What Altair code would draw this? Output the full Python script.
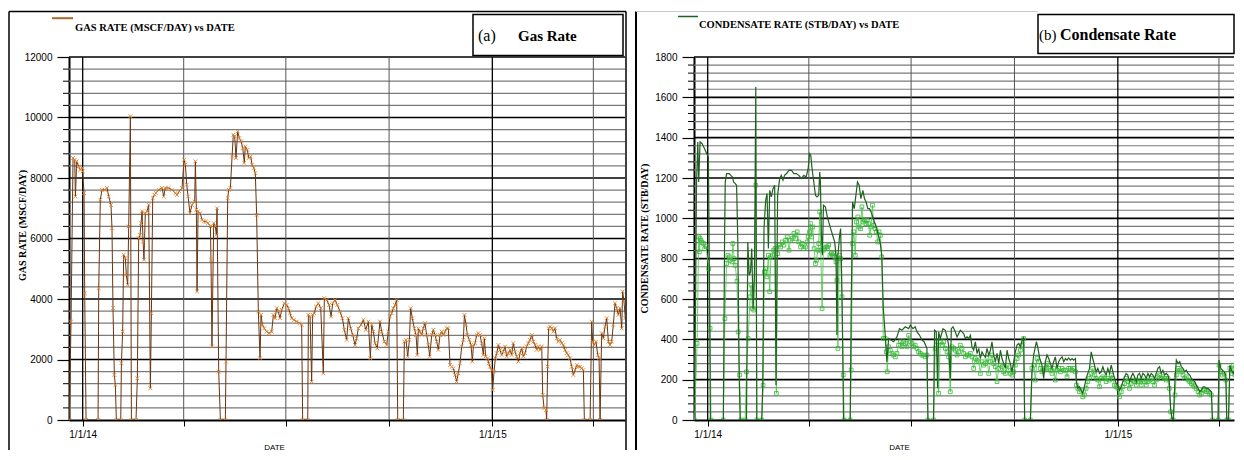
import altair as alt
import pandas as pd

# ---------------- data: days after 1 Jan 2014 and rates ----------------
GAS_DAYS = [
    -11.9, -10.4, -8.6, -7.1, -6.5, -5.3, -3.6, -2.1, -0.6, 0.0,
    1.2, 1.8, 3.0, 13.7, 14.3, 15.7, 17.2, 19.6, 21.7, 23.2,
    25.2, 26.1, 27.0, 28.2, 29.1, 30.0, 33.9, 34.5, 35.6, 36.5,
    38.0, 38.9, 40.1, 41.0, 42.5, 43.4, 47.5, 48.7, 49.9, 51.1,
    52.0, 52.9, 53.8, 54.6, 55.8, 57.3, 58.8, 60.3, 61.2, 62.4,
    63.9, 65.3, 67.7, 70.7, 72.2, 73.6, 76.6, 79.6, 82.6, 84.0,
    86.1, 88.5, 90.3, 91.5, 92.7, 93.9, 95.6, 97.4, 99.8, 100.4,
    101.3, 101.9, 102.8, 104.8, 106.3, 107.8, 109.9, 111.7, 113.8, 114.3,
    115.2, 116.7, 118.2, 119.1, 119.7, 121.2, 122.7, 127.1, 127.7, 129.2,
    130.1, 131.6, 133.1, 134.2, 135.4, 136.6, 138.1, 139.6, 141.1, 142.6,
    144.0, 144.9, 146.7, 147.9, 149.7, 150.9, 152.4, 153.8, 155.0, 156.5,
    158.0, 158.9, 160.1, 161.8, 163.9, 166.0, 168.4, 169.9, 171.4, 172.9,
    174.3, 175.8, 177.3, 179.7, 181.8, 183.3, 184.7, 186.2, 188.3, 190.7,
    193.1, 195.1, 196.0, 200.5, 201.1, 202.6, 204.0, 204.9, 206.4, 207.9,
    210.0, 212.1, 214.4, 215.3, 217.4, 219.5, 221.3, 222.8, 224.8, 226.9,
    229.3, 231.4, 233.1, 235.2, 236.7, 238.8, 240.6, 242.6, 244.1, 245.6,
    248.0, 250.1, 252.2, 254.5, 256.3, 257.5, 259.0, 260.5, 262.5, 264.9,
    266.4, 268.8, 270.9, 272.3, 273.8, 275.3, 276.8, 278.3, 279.8, 280.7,
    285.7, 286.6, 288.1, 289.6, 291.1, 292.2, 293.7, 295.5, 297.0, 298.2,
    299.1, 300.6, 302.1, 303.5, 305.0, 306.5, 308.0, 309.2, 311.0, 312.4,
    313.9, 315.4, 316.9, 318.4, 319.9, 321.4, 322.8, 324.3, 325.8, 327.3,
    328.8, 330.3, 331.8, 333.2, 334.7, 336.2, 337.7, 339.2, 340.1, 341.6,
    342.7, 344.5, 346.0, 347.2, 348.1, 349.6, 351.1, 352.5, 354.0, 355.5,
    357.0, 357.9, 359.1, 360.6, 361.8, 362.9, 364.4, 365.3, 366.5, 367.7,
    368.9, 370.4, 371.8, 373.3, 374.8, 376.3, 377.8, 379.3, 380.8, 382.2,
    383.7, 385.2, 386.7, 388.2, 389.7, 391.2, 392.6, 394.1, 395.6, 397.1,
    398.6, 400.1, 401.6, 403.1, 404.5, 406.0, 407.5, 409.0, 409.9, 411.1,
    412.8, 413.4, 414.3, 415.2, 416.4, 417.9, 419.4, 420.8, 422.3, 423.8,
    425.3, 426.8, 428.3, 429.8, 431.2, 432.7, 434.2, 435.7, 437.2, 438.7,
    440.2, 441.6, 443.1, 444.6, 446.1, 447.0, 452.1, 453.5, 454.4, 455.9,
    457.4, 458.9, 460.1, 461.0, 462.4, 463.9, 465.4, 466.9, 468.4, 469.9,
    471.3, 472.8, 474.3, 475.8, 477.3, 478.8, 480.3, 481.1, 482.3, 483.5,
]
GAS_RATE = [
    0, 3250, 8660, 8600, 7390, 8550, 8380, 8270, 8330, 8220,
    7500, 4190, 0, 0, 4360, 7280, 7610, 7610, 7670, 7390,
    7110, 6340, 3700, 1490, 1160, 0, 0, 1880, 2920, 5460,
    5350, 4800, 4470, 6400, 10040, 0, 0, 1380, 6010, 6120,
    6510, 6900, 5900, 5300, 6840, 6900, 7110, 1050, 3530, 7340,
    7450, 7500, 7610, 7670, 7390, 7670, 7670, 7610, 7500, 7440,
    7560, 7670, 8600, 8440, 7780, 7390, 6840, 7110, 7220, 8550,
    6950, 4250, 6900, 6840, 6620, 6560, 6560, 6510, 6400, 5300,
    2430, 6510, 6400, 6120, 7000, 1600, 0, 0, 1930, 7340,
    7610, 7670, 8710, 9430, 9380, 8660, 9540, 9320, 9210, 8990,
    8500, 9040, 8930, 8660, 8710, 8440, 8330, 8160, 6780, 3585,
    2040, 3475, 3145, 3030, 2920, 2870, 2920, 3475, 3365, 3695,
    3585, 3365, 3640, 3860, 3805, 3695, 3530, 3365, 3310, 3255,
    3200, 3145, 0, 0, 3475, 3420, 1270, 3475, 3530, 3750,
    3860, 3695, 1545, 4030, 3970, 3805, 3420, 3860, 3970, 3805,
    3585, 3365, 2980, 2650, 3365, 3030, 2810, 2480, 2700, 3030,
    3145, 3310, 2980, 3255, 2040, 3145, 2920, 2540, 2370, 3255,
    2920, 2590, 2480, 2920, 3420, 3530, 3695, 3805, 3970, 0,
    0, 2590, 2650, 2100, 2650, 3695, 3365, 3030, 2810, 2150,
    3030, 2920, 2810, 3030, 3200, 2810, 2480, 2100, 2810, 2980,
    2810, 2590, 2320, 2810, 2920, 2810, 2920, 3030, 3030, 1820,
    1760, 1710, 1490, 1270, 1545, 1875, 2430, 2650, 3475, 3145,
    2810, 2650, 2480, 1930, 2430, 2540, 2810, 2870, 2810, 2540,
    2150, 2700, 2100, 2040, 1875, 1760, 1650, 990, 1600, 2040,
    2210, 2480, 2320, 2150, 2260, 2430, 2100, 2210, 2320, 2150,
    2540, 2260, 2100, 1930, 2210, 2370, 2100, 2210, 2430, 2540,
    2650, 2810, 2590, 2480, 2320, 2430, 2320, 2430, 830, 390,
    330, 0, 1765, 3030, 3090, 3030, 2920, 3030, 2700, 2590,
    2650, 2540, 2480, 2320, 2210, 2150, 2040, 1760, 1490, 1650,
    1820, 1760, 1760, 1710, 1650, 0, 0, 3250, 2590, 2480,
    2590, 2150, 2040, 0, 2870, 2700, 3090, 3365, 2590, 2480,
    2590, 3145, 3860, 3695, 3475, 3695, 3030, 4250, 3915, 3365,
]

COND_DAYS = [
    -12.7, -10.9, -10.0, -8.8, -8.0, -6.8, -5.0, -2.9, -0.9, 0.6,
    1.5, 2.4, 13.9, 15.0, 15.6, 16.8, 19.2, 20.6, 22.1, 23.0,
    24.5, 25.7, 26.8, 28.0, 28.9, 34.5, 35.7, 36.9, 38.1, 39.2,
    40.4, 41.6, 42.8, 43.7, 48.1, 49.0, 50.1, 51.6, 52.8, 54.0,
    55.2, 56.6, 58.1, 59.6, 60.8, 62.2, 64.0, 65.5, 67.0, 68.4,
    70.2, 72.3, 74.6, 76.7, 78.8, 81.1, 83.5, 85.5, 87.6, 89.4,
    90.6, 91.7, 92.9, 94.4, 95.9, 97.3, 98.8, 99.7, 100.3, 101.2,
    102.1, 103.0, 104.7, 106.2, 107.7, 109.4, 111.2, 113.0, 114.2, 115.0,
    115.9, 117.4, 118.3, 119.2, 120.1, 120.9, 126.8, 127.7, 128.9, 130.4,
    131.9, 133.3, 134.8, 136.3, 138.1, 139.5, 141.0, 142.5, 144.0, 145.4,
    146.9, 148.4, 150.4, 151.9, 153.4, 154.9, 156.3, 158.0, 159.5, 161.0,
    165.4, 168.4, 170.7, 172.9, 175.8, 178.8, 180.3, 182.7, 184.7, 186.3,
    188.6, 190.7, 192.7, 195.1, 196.0, 201.0, 201.9, 203.4, 204.6, 205.5,
    207.0, 209.4, 211.5, 213.0, 214.4, 215.9, 216.8, 218.3, 220.4, 221.9,
    223.4, 224.8, 226.3, 227.8, 229.3, 230.8, 232.3, 233.8, 235.2, 236.7,
    238.2, 239.7, 241.2, 242.6, 244.1, 245.6, 247.1, 248.6, 250.1, 251.6,
    253.0, 254.5, 256.0, 257.5, 259.0, 260.5, 261.9, 263.4, 264.9, 266.4,
    267.9, 269.4, 270.8, 272.3, 273.8, 275.3, 276.8, 278.3, 279.8, 281.2,
    282.1, 287.2, 288.6, 290.1, 292.5, 293.7, 295.5, 297.5, 299.0, 300.5,
    302.0, 303.5, 305.0, 306.4, 307.9, 309.4, 310.9, 312.4, 313.9, 315.4,
    316.9, 318.4, 319.8, 321.3, 322.8, 324.3, 325.8, 327.3, 328.2, 329.4,
    330.9, 332.4, 333.8, 335.3, 336.8, 338.3, 339.8, 341.3, 342.7, 344.2,
    345.7, 347.2, 348.7, 350.2, 351.7, 353.1, 354.6, 356.1, 357.6, 359.1,
    360.6, 362.0, 363.5, 365.0, 366.5, 368.0, 369.5, 371.0, 372.4, 373.9,
    375.4, 376.9, 378.4, 379.9, 381.4, 382.8, 384.3, 385.8, 387.3, 388.8,
    390.3, 391.8, 393.2, 394.7, 396.2, 397.7, 399.2, 400.7, 402.2, 403.6,
    405.1, 406.6, 408.1, 409.6, 410.8, 412.0, 413.2, 414.4, 415.9, 417.1,
    418.6, 420.1, 421.5, 423.0, 424.5, 426.0, 427.5, 429.0, 430.5, 431.9,
    433.4, 434.9, 436.4, 437.9, 439.4, 440.9, 442.3, 443.8, 445.3, 446.8,
    448.3, 449.2, 454.2, 455.1, 456.6, 458.1, 459.6, 461.1, 462.0, 463.5,
    464.7, 466.2, 467.7, 469.2, 470.6, 472.1, 473.6, 475.1, 476.6, 478.1,
]
COND_RATE = [
    0, 520, 1164, 1379, 1180, 1379, 1370, 1346, 1321, 1304,
    751, 0, 0, 883, 1180, 1222, 1222, 1213, 1205, 1180,
    1172, 1164, 883, 223, 0, 0, 883, 718, 735, 850,
    553, 718, 1651, 0, 0, 173, 949, 1090, 1123, 850,
    1139, 1106, 1147, 1164, 173, 1114, 1197, 1213, 1189, 1213,
    1222, 1238, 1238, 1222, 1222, 1213, 1197, 1213, 1205, 1246,
    1321, 1313, 1246, 1180, 1114, 1106, 1114, 1230, 1180, 916,
    817, 1065, 1057, 1015, 982, 949, 916, 883, 817, 421,
    817, 916, 949, 718, 388, 0, 0, 553, 1081, 1048,
    1114, 1180, 1164, 1098, 1139, 1098, 1081, 1048, 1048, 1032,
    1007, 982, 949, 916, 883, 817, 553, 420, 289, 404,
    388, 412, 453, 445, 462, 453, 470, 453, 462, 437,
    420, 396, 387, 355, 0, 0, 445, 437, 157, 437,
    404, 453, 445, 412, 371, 206, 453, 462, 437, 412,
    429, 445, 437, 429, 404, 412, 404, 420, 363, 346,
    388, 330, 355, 305, 338, 322, 313, 355, 322, 346,
    388, 322, 289, 330, 280, 346, 305, 280, 256, 346,
    305, 280, 239, 289, 338, 371, 379, 363, 396, 412,
    0, 0, 239, 322, 388, 363, 305, 272, 206, 289,
    322, 305, 280, 256, 289, 313, 256, 289, 305, 313,
    289, 305, 297, 308, 297, 305, 297, 305, 190, 157,
    165, 148, 132, 165, 206, 231, 256, 338, 305, 272,
    239, 256, 231, 239, 264, 239, 223, 256, 231, 272,
    239, 206, 181, 173, 148, 165, 190, 214, 231, 223,
    190, 214, 231, 214, 190, 223, 231, 206, 231, 223,
    206, 231, 214, 231, 223, 206, 231, 256, 264, 231,
    247, 223, 231, 223, 190, 58, 8, 0, 206, 297,
    280, 289, 264, 256, 239, 247, 231, 223, 206, 198,
    190, 173, 157, 140, 148, 165, 165, 157, 157, 148,
    140, 0, 0, 297, 256, 247, 239, 223, 0, 0,
    272, 247, 231, 256, 223, 239, 272, 289, 338, 420,
]

COND_PT_DAYS = [
    -11.8, -9.4, -8.0, -7.4, -6.8, -5.9, -5.0, -3.8, -2.7, -1.5,
    0.9, 2.1, 3.0, 13.9, 15.3, 16.8, 18.0, 19.2, 20.1, 21.5,
    22.4, 23.6, 24.5, 26.0, 27.1, 28.3, 29.5, 33.3, 34.5, 36.0,
    37.8, 38.6, 39.8, 41.0, 42.8, 43.7, 48.1, 49.3, 50.4, 51.6,
    52.8, 54.0, 55.2, 56.3, 57.5, 58.7, 59.9, 61.1, 62.2, 63.4,
    64.9, 66.4, 67.8, 69.3, 70.8, 72.3, 73.7, 75.2, 76.7, 78.2,
    79.6, 81.1, 82.6, 84.1, 85.5, 87.0, 88.5, 89.4, 90.6, 91.4,
    92.3, 93.5, 94.7, 95.9, 96.8, 98.0, 98.8, 99.7, 100.6, 101.8,
    102.9, 104.1, 105.3, 106.5, 107.7, 108.8, 110.0, 111.2, 112.1, 113.0,
    114.2, 115.0, 115.9, 117.1, 118.3, 119.5, 120.6, 121.5, 126.8, 127.7,
    128.9, 130.1, 131.3, 132.4, 133.6, 134.8, 136.0, 137.2, 138.3, 139.5,
    140.7, 141.9, 143.1, 144.2, 145.4, 146.6, 147.8, 149.0, 150.1, 151.3,
    152.5, 153.7, 154.9, 156.3, 158.0, 158.9, 159.8, 161.0, 162.5, 164.0,
    165.4, 166.9, 168.4, 169.9, 171.4, 172.9, 174.3, 175.8, 177.3, 178.8,
    180.3, 181.8, 183.2, 184.7, 186.2, 187.7, 189.2, 190.7, 192.2, 193.6,
    195.1, 196.0, 201.0, 202.5, 204.0, 205.5, 207.0, 208.5, 210.0, 211.5,
    213.0, 214.4, 215.9, 217.4, 218.9, 220.4, 221.9, 223.4, 224.8, 226.3,
    227.8, 229.3, 230.8, 232.3, 233.8, 235.2, 236.7, 238.2, 239.7, 241.2,
    242.6, 244.1, 245.6, 247.1, 248.6, 250.1, 251.6, 253.0, 254.5, 256.0,
    257.5, 259.0, 260.5, 261.9, 263.4, 264.9, 266.4, 267.9, 269.4, 270.8,
    272.3, 273.8, 275.3, 276.8, 278.3, 279.8, 281.2, 282.1, 287.2, 288.6,
    290.1, 291.6, 293.1, 294.6, 296.0, 297.5, 299.0, 300.5, 302.0, 303.5,
    305.0, 306.4, 307.9, 309.4, 310.9, 312.4, 313.9, 315.4, 316.9, 318.4,
    319.8, 321.3, 322.8, 324.3, 325.8, 327.3, 328.2, 329.4, 330.9, 332.4,
    333.8, 335.3, 336.8, 338.3, 339.8, 341.3, 342.7, 344.2, 345.7, 347.2,
    348.7, 350.2, 351.7, 353.1, 354.6, 356.1, 357.6, 359.1, 360.6, 362.0,
    363.5, 365.0, 366.5, 368.0, 369.5, 371.0, 372.4, 373.9, 375.4, 376.9,
    378.4, 379.9, 381.4, 382.8, 384.3, 385.8, 387.3, 388.8, 390.3, 391.8,
    393.2, 394.7, 396.2, 397.7, 399.2, 400.7, 402.2, 403.6, 405.1, 406.6,
    408.1, 409.6, 410.8, 412.0, 413.2, 414.4, 415.9, 417.1, 418.6, 420.1,
    421.5, 423.0, 424.5, 426.0, 427.5, 429.0, 430.5, 431.9, 433.4, 434.9,
    436.4, 437.9, 439.4, 440.9, 442.3, 443.8, 445.3, 446.8, 448.3, 449.2,
    454.2, 455.1, 456.6, 458.1, 459.6, 461.1, 462.0, 463.5, 464.7, 466.2,
    467.7, 469.2, 470.6, 472.1, 473.6, 475.1, 476.6, 478.1,
]
COND_PT_RATE = [
    0, 380, 908, 834, 900, 890, 880, 875, 850, 860,
    750, 455, 0, 0, 503, 776, 817, 809, 792, 784,
    875, 800, 767, 688, 437, 223, 0, 0, 239, 404,
    611, 669, 553, 545, 1164, 0, 0, 173, 735, 751,
    710, 817, 636, 809, 817, 842, 850, 132, 825, 867,
    858, 883, 867, 891, 908, 842, 891, 900, 925, 900,
    933, 883, 858, 875, 850, 858, 883, 908, 933, 974,
    908, 957, 850, 776, 792, 842, 875, 1032, 842, 553,
    842, 850, 858, 858, 867, 817, 825, 817, 825, 809,
    784, 693, 355, 817, 800, 611, 223, 0, 0, 248,
    875, 933, 817, 982, 1007, 957, 949, 1057, 982, 990,
    974, 990, 974, 916, 957, 1065, 965, 949, 933, 883,
    933, 916, 809, 404, 404, 338, 239, 363, 346, 330,
    322, 313, 330, 371, 388, 363, 388, 379, 363, 420,
    388, 379, 363, 371, 355, 338, 330, 322, 322, 313,
    322, 0, 0, 355, 388, 132, 388, 371, 388, 355,
    338, 313, 140, 363, 355, 346, 322, 338, 371, 355,
    330, 313, 322, 322, 330, 313, 256, 305, 297, 289,
    231, 289, 272, 280, 305, 231, 289, 322, 280, 264,
    190, 256, 272, 264, 239, 231, 272, 247, 231, 223,
    239, 272, 305, 322, 346, 371, 404, 0, 0, 256,
    272, 198, 305, 289, 256, 239, 247, 256, 280, 256,
    247, 231, 256, 198, 247, 256, 239, 256, 247, 247,
    214, 256, 256, 247, 256, 239, 173, 157, 140, 148,
    115, 124, 157, 190, 206, 231, 256, 223, 206, 198,
    165, 206, 214, 206, 190, 206, 198, 223, 206, 173,
    165, 157, 115, 140, 165, 181, 206, 190, 157, 181,
    198, 190, 173, 190, 198, 173, 198, 190, 173, 190,
    198, 206, 190, 173, 198, 214, 223, 206, 214, 206,
    198, 206, 157, 41, 0, 0, 124, 223, 256, 247,
    239, 223, 206, 214, 198, 190, 181, 173, 165, 157,
    140, 124, 132, 148, 148, 140, 140, 132, 124, 0,
    0, 272, 239, 223, 231, 198, 0, 0, 256, 231,
    272, 223, 247, 231, 256, 289, 371, 445,
]

GAS_TICKS = [0, 2000, 4000, 6000, 8000, 10000, 12000]
COND_TICKS = [0, 200, 400, 600, 800, 1000, 1200, 1400, 1600, 1800]
QUARTER_DATES = ["2014-01-01", "2014-04-01", "2014-07-01", "2014-10-01", "2015-01-01", "2015-04-01"]
DATE_LABELS = {"2014-01-01": "1/1/14", "2015-01-01": "1/1/15"}

# ---------------- helpers ----------------
BASE_MS = int(pd.Timestamp("2014-01-01", tz="UTC").value // 1_000_000)
DAY_MS = 86_400_000


def ms(days):
    return [BASE_MS + int(round(d * DAY_MS)) for d in days]


def date_ms(s):
    return int(pd.Timestamp(s, tz="UTC").value // 1_000_000)


Q_MS = [date_ms(d) for d in QUARTER_DATES]
YEAR_MS = [date_ms(d) for d in DATE_LABELS]
LABEL_EXPR = " : ".join(
    f"time(datum.value) == {date_ms(d)} ? '{lab}'" for d, lab in DATE_LABELS.items()
) + " : ''"

PLOT_H = 363
X_START = -12.2
FRAME_BOTTOM = 393
ONE = pd.DataFrame({"k": [0]})
SERIF = "Liberation Serif"
SANS = "Liberation Sans"


def hrule(x1, x2, y, color, w):
    return alt.Chart(ONE).mark_rule(color=color, strokeWidth=w).encode(
        x=alt.value(x1), x2=alt.value(x2), y=alt.value(y))


def vrule(x, y1, y2, color, w):
    return alt.Chart(ONE).mark_rule(color=color, strokeWidth=w).encode(
        x=alt.value(x), y=alt.value(y1), y2=alt.value(y2))


def label(x, y, s, size, weight="normal"):
    return alt.Chart(ONE).mark_text(
        align="left", baseline="alphabetic", font=SERIF, fontSize=size,
        fontWeight=weight, color="black").encode(
        x=alt.value(x), y=alt.value(y), text=alt.value(s))


def box(x1, x2, y1, y2):
    return alt.Chart(ONE).mark_rect(fill="white", stroke="black", strokeWidth=1.5).encode(
        x=alt.value(x1), x2=alt.value(x2), y=alt.value(y1), y2=alt.value(y2))


def scaffold(x_end, ymax, ticks, minor_step, ytitle, title_x, title_y):
    xs = alt.Scale(type="utc", domain=ms([X_START, x_end]), nice=False)
    ys = alt.Scale(domain=[0, ymax], nice=False, zero=True)
    xaxis = alt.Axis(
        values=Q_MS, labelExpr=LABEL_EXPR, title="DATE", grid=False,
        tickSize=6, tickColor="black", tickWidth=1, domainColor="black", domainWidth=2,
        labelFont=SANS, labelFontSize=10, labelColor="black", labelPadding=3,
        labelFlush=False, labelOverlap=False,
        titleFont=SANS, titleFontSize=8, titleFontWeight="normal", titleColor="black",
        titleX=205, titleY=29, titleBaseline="alphabetic", titleAlign="center")
    yaxis = alt.Axis(
        values=ticks, format="d", title=ytitle, grid=False, tickSize=12, tickColor="black",
        tickWidth=1.2, domainColor="black", domainWidth=2,
        labelFont=SANS, labelFontSize=10, labelColor="black", labelPadding=5,
        labelFlush=False, labelOverlap=False,
        titleFont=SERIF, titleFontSize=10, titleFontWeight="bold", titleColor="black",
        titleX=title_x, titleY=title_y, titleBaseline="alphabetic", titleAlign="center")
    X = lambda: alt.X("t:T", scale=xs, axis=xaxis)
    Y = lambda: alt.Y("v:Q", scale=ys, axis=yaxis)
    major_step = ticks[1] - ticks[0]
    minor = [v for v in range(0, ymax + 1, minor_step) if v % major_step != 0]
    layers = [
        alt.Chart(pd.DataFrame({"v": minor})).mark_rule(color="#7a7a7a", strokeWidth=1.2)
        .encode(y=Y()),
        alt.Chart(pd.DataFrame({"v": ticks[1:]})).mark_rule(color="black", strokeWidth=1.6)
        .encode(y=Y()),
        alt.Chart(pd.DataFrame({"t": [q for q in Q_MS if q not in YEAR_MS]}))
        .mark_rule(color="#555555", strokeWidth=1).encode(x=X()),
        alt.Chart(pd.DataFrame({"t": YEAR_MS})).mark_rule(color="black", strokeWidth=1.3)
        .encode(x=X()),
        alt.Chart(pd.DataFrame({"v": minor})).mark_rule(color="black", strokeWidth=1)
        .encode(y=Y(), x=alt.value(-6), x2=alt.value(0)),
    ]
    return X, Y, layers


# ---------------- left panel: gas rate ----------------
LW = 556
X, Y, g_layers = scaffold(483.2, 12000, GAS_TICKS, 400, "GAS RATE (MSCF/DAY)", -44, 168)
gas_df = pd.DataFrame({"t": ms(GAS_DAYS), "v": GAS_RATE})
gas_line = alt.Chart(gas_df).mark_line(color="#6b3510", strokeWidth=1, clip=True).encode(
    x=X(), y=Y())
gas_pts = alt.Chart(gas_df).mark_point(
    shape="M-1,-1L1,1M-1,1L1,-1", filled=False, size=14, color="#e0822c",
    strokeWidth=0.9, opacity=1, clip=True).encode(x=X(), y=Y())

left = alt.layer(
    *g_layers, gas_line, gas_pts,
    hrule(-60, 557, -45.5, "black", 1.5),
    vrule(-60, -45.5, FRAME_BOTTOM, "black", 1.5),
    vrule(557, -45.5, FRAME_BOTTOM, "black", 1.5),
    hrule(-17, 4, -38.8, "#b0652a", 2),
    label(6, -26, "GAS RATE (MSCF/DAY) vs DATE", 10.5, "bold"),
    box(404, 554, -42.5, -1.5),
    label(409, -16, "(a)", 16),
    label(449, -16, "Gas Rate", 15, "bold"),
).properties(width=LW, height=PLOT_H)

# ---------------- right panel: condensate rate ----------------
RW = 540
X2, Y2, c_layers = scaffold(468.4, 1800, COND_TICKS, 40, "CONDENSATE RATE (STB/DAY)", -46.5, 181)
cond_df = pd.DataFrame({"t": ms(COND_DAYS), "v": COND_RATE})
obs_df = pd.DataFrame({"t": ms(COND_PT_DAYS), "v": COND_PT_RATE})
obs_line = alt.Chart(obs_df).mark_line(color="#45c845", strokeWidth=0.8, clip=True).encode(
    x=X2(), y=Y2())
obs_pts = alt.Chart(obs_df).mark_point(
    shape="square", filled=False, size=14, color="#36b836", strokeWidth=0.8,
    opacity=1, clip=True).encode(x=X2(), y=Y2())
cond_line = alt.Chart(cond_df).mark_line(color="#1e621e", strokeWidth=1.2, clip=True).encode(
    x=X2(), y=Y2())

right = alt.layer(
    *c_layers, obs_line, obs_pts, cond_line,
    vrule(-58, -45.5, FRAME_BOTTOM, "black", 2),
    hrule(-58, 344, -45.5, "#c8c8c8", 1),
    hrule(-16, 4, -40.5, "#1e621e", 1.5),
    label(5, -29.5, "CONDENSATE RATE (STB/DAY) vs DATE", 10.5, "bold"),
    box(344, 540, -42.5, -3.5),
    label(345, -17, "(b)", 15),
    label(366, -17, "Condensate Rate", 16, "bold"),
).properties(width=RW, height=PLOT_H)

chart = alt.hconcat(left, right, spacing=8).properties(
    padding={"left": 0, "top": 2, "right": 0, "bottom": 0},
    background="white",
).configure_view(stroke=None)

chart.save("out.html", embed_options={"renderer": "svg", "actions": False})
